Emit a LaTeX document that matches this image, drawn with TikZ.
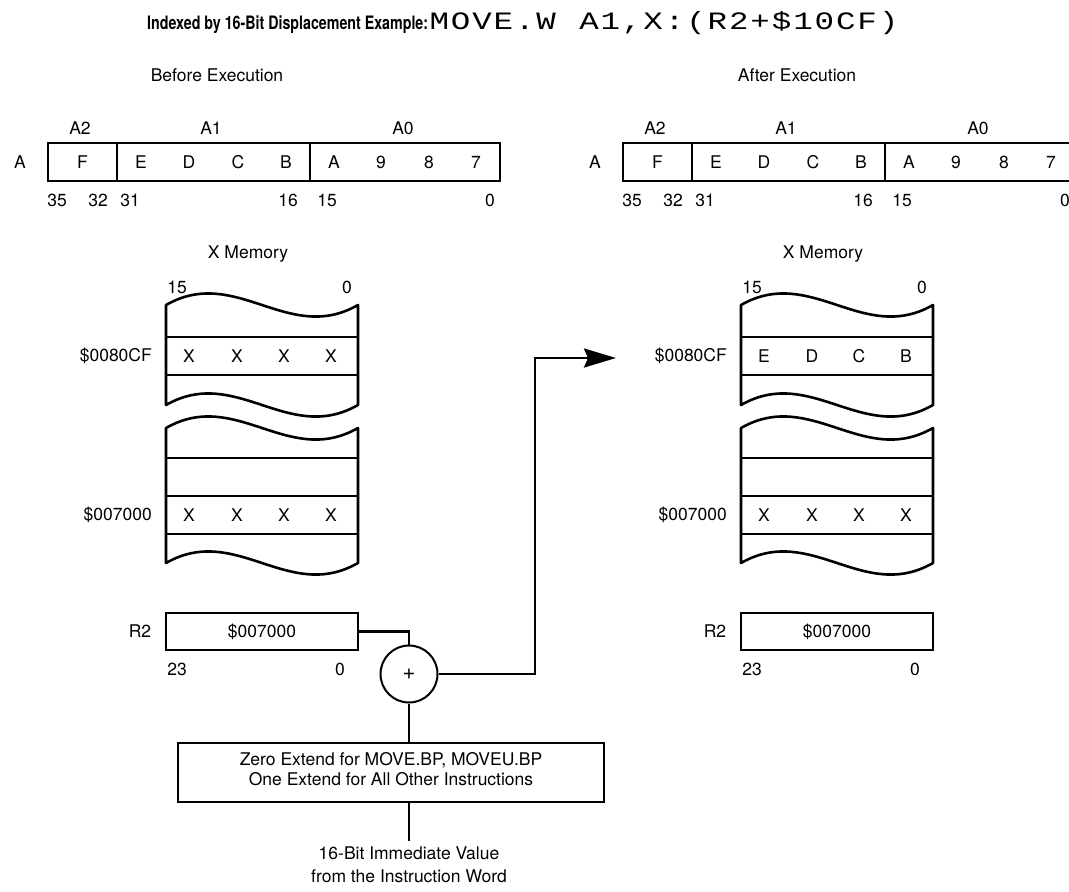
\documentclass[tikz,border=0pt]{standalone}
\usepackage{fontspec}
\setmainfont{TeX Gyre Heros}
\newfontfamily\narrowfont{TeX Gyre Heros}[FakeStretch=0.77]
\newfontfamily\monofont{Liberation Mono}[FakeStretch=1.3]
\usetikzlibrary{arrows.meta}
\newcommand\mch[1]{\makebox[21.4pt]{#1}}
\tikzset{
  lbl/.style={font=\fontsize{17.5}{20}\selectfont, inner sep=0pt},
  regbox/.style={draw, line width=2.8pt, inner sep=0pt},
  regline/.style={line width=2.8pt},
  wave/.style={line width=2.6pt, line join=round},
  conn/.style={line width=2.8pt},
  bigarrow/.style={-{Stealth[length=32pt,width=19pt,inset=4pt]}},
}
\newcommand\drawreg[2]{%
  \begin{scope}[xshift=#1]
    \node[regbox, minimum width=452pt, minimum height=38pt] (#2box) at (274,162) {};
    \draw[regline] (117,143) -- (117,181);
    \draw[regline] (310,143) -- (310,181);
    \foreach \xx/\tt [count=\i] in {82.5/F,141/E,189/D,238/C,286/B,334/A,381/9,429/8,476/7}
      \node[lbl] (#2v\i) at (\xx,162) {\tt};
    \node[lbl] (#2A2) at (80,128) {A2};
    \node[lbl] (#2A1) at (211,128) {A1};
    \node[lbl] (#2A0) at (403,128) {A0};
    \node[lbl] (#2A) at (20,162) {A};
    \foreach \xx/\tt [count=\i] in {57/35,98/32,130/31,288/16,327/15,490/0}
      \node[lbl] (#2b\i) at (\xx,200) {\tt};
  \end{scope}}
\newcommand\drawmem[6]{%
  \begin{scope}[xshift=#1]
    \node[lbl] (#2title) at (248,254) {X Memory};
    \node[lbl] (#2hi) at (177,287) {15};
    \node[lbl] (#2lo) at (347,287) {0};
    \draw[wave] (166,305) .. controls (236,265) and (288,345) .. (358,305)
      -- (358,405) .. controls (288,445) and (236,365) .. (166,405) -- cycle;
    \draw[regline] (166,337) -- (358,337);
    \draw[regline] (166,375) -- (358,375);
    \draw[wave] (166,428) .. controls (236,388) and (288,468) .. (358,428)
      -- (358,563) .. controls (288,603) and (236,523) .. (166,563) -- cycle;
    \draw[regline] (166,458) -- (358,458);
    \draw[regline] (166,496) -- (358,496);
    \draw[regline] (166,534) -- (358,534);
    \node[lbl, anchor=east] (#2addrA) at (152,356) {\$0080CF};
    \node[lbl, anchor=east] (#2addrB) at (152,515) {\$007000};
    \foreach \xx/\tt [count=\i] in {189/#3,237/#4,284/#5,331/#6}
      \node[lbl] (#2m\i) at (\xx,356) {\tt};
    \foreach \xx [count=\i] in {189,237,284,331}
      \node[lbl] (#2n\i) at (\xx,515) {X};
    \node[regbox, minimum width=192pt, minimum height=37pt] (#2r2) at (262,631.5) {};
    \node[lbl] (#2r2val) at (262,631.5) {\$007000};
    \node[lbl] (#2r2name) at (140,631.5) {R2};
    \node[lbl] (#2r2hi) at (177,669) {23};
    \node[lbl] (#2r2lo) at (340,669) {0};
  \end{scope}}
\begin{document}
\begin{tikzpicture}[x=1pt,y=-1pt]
  \useasboundingbox (0,0) rectangle (1069,892);
  \node[inner sep=0pt, anchor=base west, font=\fontsize{18.5}{20}\narrowfont\bfseries] (title) at (147,29)
    {Indexed by 16-Bit Displacement Example:};
  \node[inner sep=0pt, anchor=base west, font=\fontsize{25}{26}\monofont] (titlecode) at ([xshift=0pt]title.base east)
    {\mch{M}\mch{O}\mch{V}\mch{E}\mch{.}\mch{W}\mch{}\mch{A}\mch{1}\mch{,}\mch{X}\mch{:}\mch{(}\mch{R}\mch{2}\mch{+}\mch{\$}\mch{1}\mch{0}\mch{C}\mch{F}\mch{)}};
  \node[lbl] (before) at (217,75) {Before Execution};
  \node[lbl] (after) at (797,75) {After Execution};
  \drawreg{0}{L}
  \drawreg{575}{R}
  \drawmem{0}{LM}{X}{X}{X}{X}
  \drawmem{575}{RM}{E}{D}{C}{B}
  % adder
  \node[draw, circle, line width=2pt, minimum size=57pt, inner sep=0pt, font=\fontsize{22}{24}\selectfont] (add) at (409,674) {+};
  \draw[conn] (LMr2.east) -| (add.north);
  \coordinate (bend) at (535,358);
  \coordinate (tip) at (616,358);
  \draw[conn, bigarrow] (add.east) -| (bend) -- (tip);
  \node[regbox, minimum width=426pt, minimum height=59pt] (ext) at (391,772.5) {};
  \node[lbl, align=center] (exttext) at (391,769) {Zero Extend for MOVE.BP, MOVEU.BP\\One Extend for All Other Instructions};
  \draw[conn] (add.south) -- (add.south |- ext.north);
  \coordinate (immtop) at (409,841);
  \draw[conn] (ext.south -| add) -- (immtop);
  \node[lbl, align=center, font=\fontsize{17.5}{23}\selectfont] (imm) at (409,864.5) {16-Bit Immediate Value\\from the Instruction Word};
\end{tikzpicture}
\end{document}
